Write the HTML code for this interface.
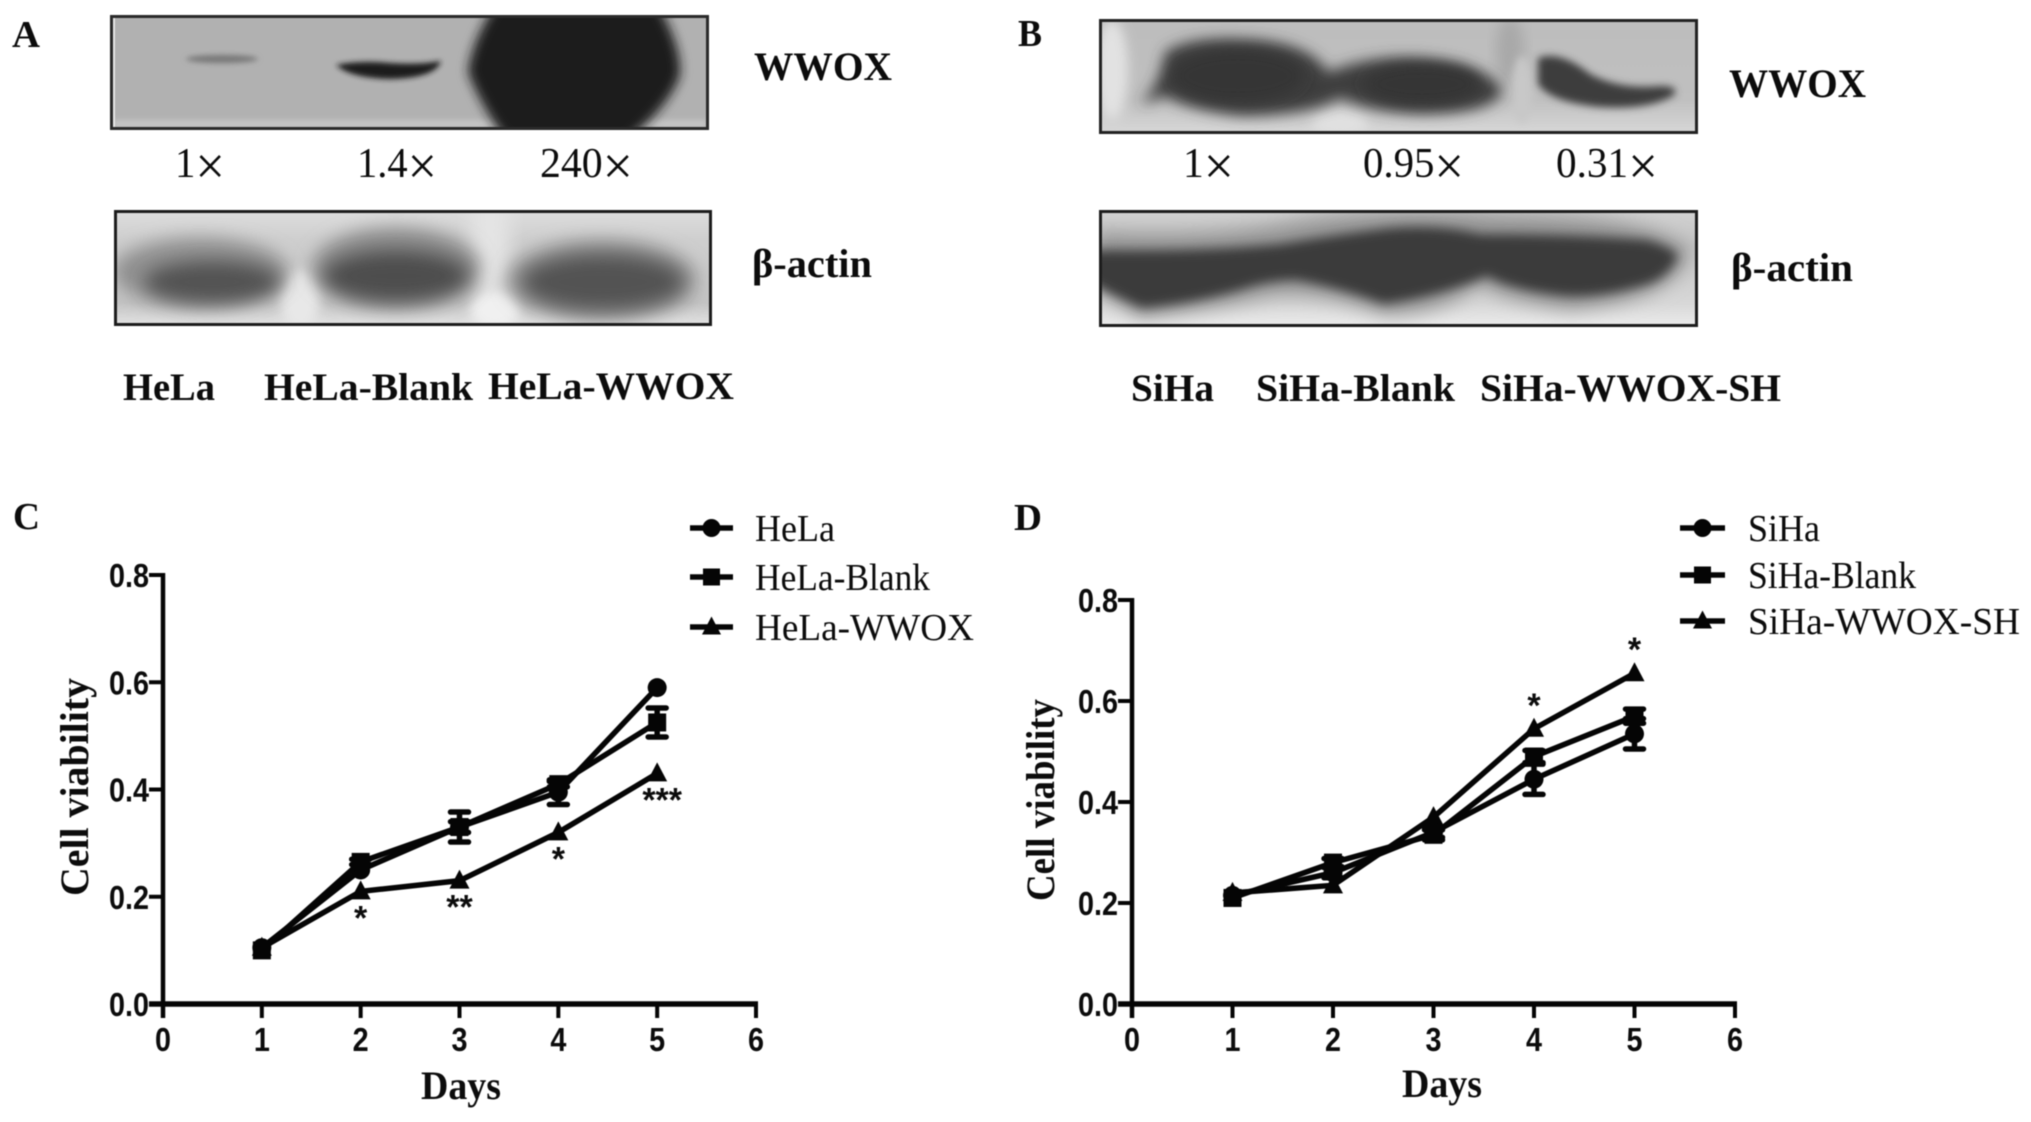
<!DOCTYPE html>
<html lang="en">
<head>
<meta charset="utf-8">
<title>WWOX western blots and cell viability</title>
<style>
html,body{margin:0;padding:0;background:#fff;width:2031px;height:1122px;overflow:hidden}
svg{display:block;position:absolute;left:0;top:0;filter:blur(0.45px)}
.ser{font-family:"Liberation Serif","DejaVu Serif",serif}
.san{font-family:"Liberation Sans","DejaVu Sans",sans-serif}
.b{font-weight:700}
text{fill:#0c0c0c}
</style>
</head>
<body>
<svg id="fig" xmlns="http://www.w3.org/2000/svg" width="2031" height="1122" viewBox="0 0 2031 1122">
<defs>
<filter id="b2" x="-30%" y="-60%" width="160%" height="220%"><feGaussianBlur stdDeviation="2.6"/></filter>
<filter id="b3" x="-30%" y="-40%" width="160%" height="180%"><feGaussianBlur stdDeviation="4"/></filter>
<filter id="b5" x="-30%" y="-50%" width="160%" height="200%"><feGaussianBlur stdDeviation="5.5"/></filter>
<filter id="b7" x="-30%" y="-50%" width="160%" height="200%"><feGaussianBlur stdDeviation="7"/></filter>
<filter id="b8" x="-30%" y="-60%" width="160%" height="220%"><feGaussianBlur stdDeviation="9"/></filter>
<clipPath id="cA1"><rect x="112" y="17" width="595" height="111"/></clipPath>
<clipPath id="cA2"><rect x="116" y="212" width="595" height="113"/></clipPath>
<clipPath id="cB1"><rect x="1101" y="21" width="595" height="111"/></clipPath>
<clipPath id="cB2"><rect x="1101" y="212" width="595" height="113"/></clipPath>
<linearGradient id="gA2" x1="0" y1="0" x2="0" y2="1"><stop offset="0" stop-color="#dedede"/><stop offset="0.25" stop-color="#cfcfcf"/><stop offset="0.8" stop-color="#c4c4c4"/><stop offset="1" stop-color="#e4e4e4"/></linearGradient>
<linearGradient id="gB1" x1="0" y1="0" x2="0" y2="1"><stop offset="0" stop-color="#bdbdbd"/><stop offset="0.7" stop-color="#c0c0c0"/><stop offset="1" stop-color="#d8d8d8"/></linearGradient>
<linearGradient id="gB2" x1="0" y1="0" x2="0" y2="1"><stop offset="0" stop-color="#d2d2d2"/><stop offset="0.3" stop-color="#c4c4c4"/><stop offset="0.8" stop-color="#d8d8d8"/><stop offset="1" stop-color="#ececec"/></linearGradient>
</defs>
<rect width="2031" height="1122" fill="#fff"/>

<!-- Panel A blots -->
<g>
  <rect x="110" y="15" width="599" height="115" fill="#b1b1b1"/>
  <g clip-path="url(#cA1)">
    <rect x="113" y="120" width="594" height="8" fill="#c6c6c6" filter="url(#b2)"/>
    <rect x="112" y="17" width="3" height="111" fill="#e8e8e8"/>
    <ellipse cx="222" cy="59" rx="36" ry="4" fill="#777" filter="url(#b2)"/>
    <path d="M336 65 Q360 60 390 63 Q420 65 441 61 Q436 78 390 79 Q350 78 336 65Z" fill="#1c1c1c" filter="url(#b2)"/>
    <path d="M498 0 L655 0 Q682 45 680 75 Q670 105 628 140 L505 140 Q478 100 468 72 Q472 40 498 0Z" fill="#1a1a1a" filter="url(#b5)"/>
  </g>
  <rect x="111.5" y="16.5" width="596" height="112" fill="none" stroke="#2a2a2a" stroke-width="3"/>
</g>
<g>
  <rect x="114" y="210" width="598" height="116" fill="url(#gA2)"/>
  <g clip-path="url(#cA2)">
    <ellipse cx="490" cy="240" rx="20" ry="60" fill="#e4e4e4" filter="url(#b8)"/>
    <ellipse cx="300" cy="300" rx="20" ry="30" fill="#e8e8e8" filter="url(#b5)"/>
    <ellipse cx="495" cy="310" rx="25" ry="20" fill="#f0f0f0" filter="url(#b5)"/>
    <ellipse cx="200" cy="272" rx="88" ry="34" fill="#909090" filter="url(#b8)"/>
    <ellipse cx="396" cy="268" rx="84" ry="40" fill="#8a8a8a" filter="url(#b8)"/>
    <ellipse cx="602" cy="280" rx="94" ry="40" fill="#8c8c8c" filter="url(#b8)"/>
    <ellipse cx="212" cy="282" rx="68" ry="21" fill="#535353" filter="url(#b8)"/>
    <ellipse cx="396" cy="276" rx="72" ry="25" fill="#4e4e4e" filter="url(#b8)"/>
    <ellipse cx="603" cy="282" rx="80" ry="27" fill="#525252" filter="url(#b8)"/>
  </g>
  <rect x="115.5" y="211.5" width="595" height="113" fill="none" stroke="#1c1c1c" stroke-width="3"/>
</g>

<!-- Panel B blots -->
<g>
  <rect x="1099" y="19" width="599" height="115" fill="url(#gB1)"/>
  <g clip-path="url(#cB1)">
    <ellipse cx="1112" cy="70" rx="16" ry="50" fill="#e2e2e2" filter="url(#b5)"/>
    <ellipse cx="1510" cy="50" rx="14" ry="34" fill="#a8a8a8" filter="url(#b7)"/>
    <ellipse cx="1522" cy="90" rx="10" ry="34" fill="#c8c8c8" filter="url(#b3)"/>
    <ellipse cx="1340" cy="124" rx="28" ry="14" fill="#e0e0e0" filter="url(#b5)"/>
    <path d="M1165 52 Q1190 36 1245 39 Q1310 42 1328 72 L1345 66 Q1400 50 1460 64 Q1502 78 1502 93 Q1490 114 1420 114 Q1370 112 1340 98 Q1310 116 1240 116 Q1190 110 1165 96 L1140 105 Q1160 85 1165 52Z" fill="#3c3c3c" filter="url(#b7)"/>
    <path d="M1538 58 Q1560 50 1590 74 Q1620 90 1660 86 Q1680 86 1674 95 Q1650 110 1600 107 Q1550 102 1538 84Z" fill="#3c3c3c" filter="url(#b3)"/>
    <ellipse cx="1238" cy="76" rx="66" ry="26" fill="#363636" filter="url(#b7)"/>
    <ellipse cx="1422" cy="84" rx="58" ry="20" fill="#363636" filter="url(#b7)"/>
  </g>
  <rect x="1100.5" y="20.5" width="596" height="112" fill="none" stroke="#222" stroke-width="3"/>
</g>
<g>
  <rect x="1099" y="210" width="599" height="117" fill="url(#gB2)"/>
  <g clip-path="url(#cB2)">
    <path d="M1095 232 Q1200 238 1280 224 Q1380 204 1500 214 Q1650 214 1690 250 Q1680 300 1570 310 Q1500 300 1480 285 Q1440 315 1384 315 Q1320 290 1270 296 Q1210 310 1140 318 L1095 290Z" fill="#979797" filter="url(#b8)"/>
    <path d="M1085 250 Q1200 252 1280 244 Q1340 234 1390 228 Q1440 224 1480 234 Q1580 234 1648 240 Q1680 250 1677 258 Q1668 278 1645 285 Q1600 298 1566 296 Q1510 290 1487 276 Q1440 296 1384 304 Q1340 288 1296 280 Q1270 280 1240 290 Q1190 304 1142 308 Q1115 296 1085 280Z" fill="#3a3a3a" filter="url(#b5)"/>
  </g>
  <rect x="1100.5" y="211.5" width="596" height="114" fill="none" stroke="#1c1c1c" stroke-width="3"/>
</g>

<!-- Panel letters -->
<g class="ser b" font-size="38">
<text x="12" y="47" textLength="28" lengthAdjust="spacingAndGlyphs">A</text>
<text x="1018" y="46" textLength="24" lengthAdjust="spacingAndGlyphs">B</text>
<text x="13" y="529" textLength="27" lengthAdjust="spacingAndGlyphs">C</text>
<text x="1014" y="530" textLength="28" lengthAdjust="spacingAndGlyphs">D</text>
</g>

<!-- Blot labels -->
<g class="ser b" font-size="40">
<text x="754" y="80" textLength="138" lengthAdjust="spacingAndGlyphs">WWOX</text>
<text x="752" y="277" textLength="120" lengthAdjust="spacingAndGlyphs">β-actin</text>
<text x="1729" y="97" textLength="137" lengthAdjust="spacingAndGlyphs">WWOX</text>
<text x="1731" y="281" textLength="122" lengthAdjust="spacingAndGlyphs">β-actin</text>
</g>
<g class="ser b" font-size="39">
<text x="123" y="400" textLength="92" lengthAdjust="spacingAndGlyphs">HeLa</text>
<text x="264" y="400" textLength="209" lengthAdjust="spacingAndGlyphs">HeLa-Blank</text>
<text x="488" y="399" textLength="246" lengthAdjust="spacingAndGlyphs">HeLa-WWOX</text>
<text x="1131" y="401" textLength="83" lengthAdjust="spacingAndGlyphs">SiHa</text>
<text x="1256" y="401" textLength="199" lengthAdjust="spacingAndGlyphs">SiHa-Blank</text>
<text x="1480" y="401" textLength="301" lengthAdjust="spacingAndGlyphs">SiHa-WWOX-SH</text>
</g>
<g class="ser" font-size="42">
<text x="175" y="177" textLength="50" lengthAdjust="spacingAndGlyphs">1<tspan font-size="54" dy="7">×</tspan></text>
<text x="357" y="177" textLength="80" lengthAdjust="spacingAndGlyphs">1.4<tspan font-size="54" dy="7">×</tspan></text>
<text x="540" y="177" textLength="93" lengthAdjust="spacingAndGlyphs">240<tspan font-size="54" dy="7">×</tspan></text>
<text x="1183" y="177" textLength="51" lengthAdjust="spacingAndGlyphs">1<tspan font-size="54" dy="7">×</tspan></text>
<text x="1363" y="177" textLength="101" lengthAdjust="spacingAndGlyphs">0.95<tspan font-size="54" dy="7">×</tspan></text>
<text x="1556" y="177" textLength="102" lengthAdjust="spacingAndGlyphs">0.31<tspan font-size="54" dy="7">×</tspan></text>
</g>

<g id="chartC"></g>
<g id="chartD"></g>
</svg>

<script>
// Shared axis data
const dayCategories = [1, 2, 3, 4, 5];
const xTickValues = [0, 1, 2, 3, 4, 5, 6];
const yTickValues = [0, 0.2, 0.4, 0.6, 0.8];

// Chart C values
const cNames = ['HeLa', 'HeLa-Blank', 'HeLa-WWOX'];
const cHeLa = [0.105, 0.25, 0.33, 0.395, 0.59];
const cBlank = [0.10, 0.265, 0.33, 0.41, 0.525];
const cWwox = [0.105, 0.21, 0.23, 0.32, 0.43];
const cHeLaErr = [0, 0, 0.01, 0.023, 0];
const cBlankErr = [0, 0.005, 0.028, 0.005, 0.027];
const cWwoxErr = [0, 0, 0, 0, 0];
const cStars = ['', '*', '**', '*', '***'];

// Chart D values
const dNames = ['SiHa', 'SiHa-Blank', 'SiHa-WWOX-SH'];
const dSiha = [0.215, 0.26, 0.34, 0.445, 0.535];
const dBlank = [0.21, 0.28, 0.335, 0.49, 0.57];
const dWwox = [0.22, 0.235, 0.37, 0.545, 0.655];
const dSihaErr = [0, 0.01, 0.01, 0.03, 0.03];
const dBlankErr = [0, 0.008, 0.01, 0.012, 0.014];
const dWwoxErr = [0, 0, 0, 0, 0];
const dStars = ['', '', '', '*', '*'];

const NS = 'http://www.w3.org/2000/svg';
function mk(parent, tag, attrs, txt) {
  const el = document.createElementNS(NS, tag);
  for (const k in attrs) el.setAttribute(k, attrs[k]);
  if (txt !== undefined) el.textContent = txt;
  parent.appendChild(el);
  return el;
}
function slug(s) { return s.toLowerCase(); }

function marker(g, shape, cx, cy, r) {
  let el;
  if (shape === 'circle') {
    el = mk(g, 'circle', { cx: cx, cy: cy, r: r + 0.5, fill: '#050505' });
  } else if (shape === 'square') {
    el = mk(g, 'rect', { x: cx - r, y: cy - r, width: 2 * r, height: 2 * r, fill: '#050505' });
  } else {
    el = mk(g, 'polygon', { points: (cx) + ',' + (cy - r - 2) + ' ' + (cx + r + 1) + ',' + (cy + r - 1) + ' ' + (cx - r - 1) + ',' + (cy + r - 1), fill: '#050505' });
  }
  return el;
}

const shapes = ['circle', 'square', 'triangle'];
const drawOrder = [2, 0, 1];

function drawChart(root, cfg) {
  const sx = v => cfg.x0 + (cfg.x6 - cfg.x0) * v / 6;
  const sy = v => cfg.y0 + (cfg.y8 - cfg.y0) * v / 0.8;

  // Series
  drawOrder.forEach(si => {
    const vals = cfg.series[si];
    const g = mk(root, 'g', {});
    
    
    const pts = dayCategories.map((d, i) => sx(d) + ',' + sy(vals[i])).join(' ');
    const line = mk(g, 'polyline', { points: pts, fill: 'none', stroke: '#050505', 'stroke-width': 5.5 });
    
    
    dayCategories.forEach((d, i) => {
      const e = cfg.errors[si][i];
      if (e > 0) {
        const bar = mk(g, 'path', {
          d: 'M' + sx(d) + ' ' + sy(vals[i] - e) + 'V' + sy(vals[i] + e) +
             'M' + (sx(d) - 9) + ' ' + sy(vals[i] - e) + 'H' + (sx(d) + 9) +
             'M' + (sx(d) - 9) + ' ' + sy(vals[i] + e) + 'H' + (sx(d) + 9),
          fill: 'none', stroke: '#050505', 'stroke-width': 5.5, 'stroke-linecap': 'round'
        });
        
        
      }
      const m = marker(g, shapes[si], sx(d), sy(vals[i]), 9);
      
      
    });
  });

  // Significance stars
  cfg.stars.forEach((s, i) => {
    if (!s) return;
    const t = mk(root, 'text', {
      x: sx(dayCategories[i]) + (s.length === 3 ? 5 : 0), y: sy(cfg.series[2][i]) + cfg.starDy,
      'text-anchor': 'middle', 'font-size': 34, 'class': 'san b'
    }, s);
    
    
  });

  // Axes
  const yAxis = mk(root, 'line', { x1: cfg.x0, x2: cfg.x0, y1: cfg.y8 - 2, y2: cfg.y0 + 14, stroke: '#050505', 'stroke-width': 4.5 });
  
  
  const xAxis = mk(root, 'line', { x1: cfg.x0 - 14, x2: cfg.x6 + 2, y1: cfg.y0, y2: cfg.y0, stroke: '#050505', 'stroke-width': 5.5 });
  
  

  yTickValues.forEach(v => {
    const tk = mk(root, 'line', { x1: cfg.x0 - 14, x2: cfg.x0, y1: sy(v), y2: sy(v), stroke: '#050505', 'stroke-width': 4 });
    
    
    const lb = mk(root, 'text', { x: cfg.x0 - 54, y: sy(v) + 12, 'font-size': 33, 'class': 'san b', textLength: 40, lengthAdjust: 'spacingAndGlyphs' }, v.toFixed(1));
    
    
  });
  xTickValues.forEach(v => {
    const tk = mk(root, 'line', { x1: sx(v), x2: sx(v), y1: cfg.y0, y2: cfg.y0 + 14, stroke: '#050505', 'stroke-width': 4 });
    
    
    const lb = mk(root, 'text', { x: sx(v) - 8, y: cfg.y0 + 47, 'font-size': 33, 'class': 'san b', textLength: 16, lengthAdjust: 'spacingAndGlyphs' }, String(v));
    
    
  });

  // Axis titles
  const xt = mk(root, 'text', { x: cfg.xtX, y: cfg.xtY, 'font-size': 40, 'class': 'ser b', textLength: 80, lengthAdjust: 'spacingAndGlyphs' }, 'Days');
  
  
  const yt = mk(root, 'text', {
    x: 0, y: 0, 'font-size': 40, 'class': 'ser b', textLength: cfg.ytLen, lengthAdjust: 'spacingAndGlyphs',
    transform: 'translate(' + cfg.ytX + ',' + cfg.ytY + ') rotate(-90)'
  }, 'Cell viability');
  
  

  // Legend
  cfg.names.forEach((n, i) => {
    const g = mk(root, 'g', {});
    
    
    const ly = cfg.legY[i];
    mk(g, 'line', { x1: cfg.legX1, x2: cfg.legX2, y1: ly, y2: ly, stroke: '#050505', 'stroke-width': 5.5 });
    marker(g, shapes[i], (cfg.legX1 + cfg.legX2) / 2, ly, 8.5);
    mk(g, 'text', { x: cfg.legTx, y: ly + 13, 'font-size': 38, 'class': 'ser', textLength: cfg.legW[i], lengthAdjust: 'spacingAndGlyphs' }, n);
  });
}

drawChart(document.getElementById('chartC'), {
  x0: 163, x6: 756, y0: 1004, y8: 575,
  names: cNames, series: [cHeLa, cBlank, cWwox], errors: [cHeLaErr, cBlankErr, cWwoxErr], stars: cStars,
  starDy: 38,
  xtX: 421, xtY: 1099, ytX: 88, ytY: 896, ytLen: 218,
  legX1: 690, legX2: 733, legY: [528, 577, 627], legTx: 755, legW: [80, 175, 219]
});
drawChart(document.getElementById('chartD'), {
  x0: 1132, x6: 1735, y0: 1004, y8: 600,
  names: dNames, series: [dSiha, dBlank, dWwox], errors: [dSihaErr, dBlankErr, dWwoxErr], stars: dStars,
  starDy: -12,
  xtX: 1402, xtY: 1097, ytX: 1054, ytY: 901, ytLen: 202,
  legX1: 1680, legX2: 1725, legY: [528, 575, 621], legTx: 1748, legW: [72, 168, 272]
});
</script>
</body>
</html>
